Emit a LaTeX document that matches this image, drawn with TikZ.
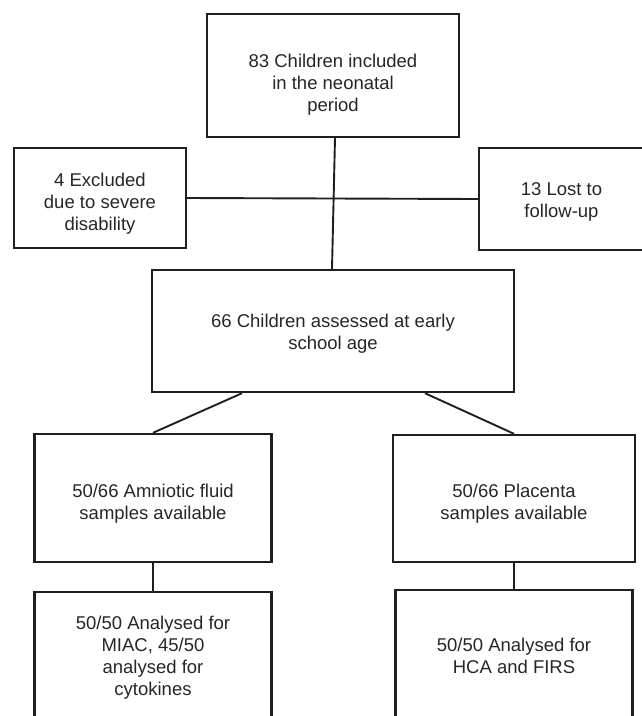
\documentclass[tikz,border=0pt]{standalone}
\usepackage{fontspec}
\setmainfont{Liberation Sans}
\begin{document}
\begin{tikzpicture}[x=1pt,y=-1pt,
  box/.style={draw=black!88, line width=2.4pt, rectangle, inner sep=0pt},
  txt/.style={align=center, font=\fontsize{18.5}{22}\selectfont, text=black!85},
  link/.style={draw=black!88, line width=1.9pt}]
\useasboundingbox (0,0) rectangle (642,716);
\clip (0,0) rectangle (642,716);
\node[box, minimum width=252, minimum height=123,
  label={[txt, yshift=-9pt]center:{83 Children included\\in the neonatal\\period}}] (top) at (333,75.5) {};
\node[box, minimum width=172, minimum height=100,
  label={[txt, yshift=-6pt]center:{4 Excluded\\due to severe\\disability}}] (excl) at (100,198) {};
\node[box, minimum width=165, minimum height=102,
  label={[txt, yshift=-3pt]center:{13 Lost to\\follow-up}}] (lost) at (561.5,199) {};
\node[box, minimum width=362, minimum height=122,
  label={[txt, yshift=-3pt]center:{66 Children assessed at early\\school age}}] (mid) at (333,331) {};
\node[box, minimum width=237, minimum height=128,
  label={[txt, yshift=-6pt]center:{50/66 Amniotic fluid\\samples available}}] (amn) at (153,498) {};
\node[box, minimum width=242, minimum height=127,
  label={[txt, yshift=-5.5pt]center:{50/66 Placenta\\samples available}}] (plac) at (514,498.5) {};
\node[box, minimum width=237, minimum height=128,
  label={[txt, yshift=-2pt]center:{50/50 Analysed for\\MIAC, 45/50\\analysed for\\cytokines}}] (an1) at (153,656) {};
\node[box, minimum width=237, minimum height=130,
  label={[txt, yshift=-1pt]center:{50/50 Analysed for\\HCA and FIRS}}] (an2) at (514,655) {};
\draw[link] (excl.east) -- (lost.west);
\draw[link] ([xshift=2pt]top.south) -- ([xshift=-1pt]mid.north);
\draw[link] ([xshift=-91pt]mid.south) -- (amn.north);
\draw[link] ([xshift=92pt]mid.south) -- (plac.north);
\draw[link] (amn.south) -- (an1.north);
\draw[link] (plac.south) -- (an2.north);
\end{tikzpicture}
\end{document}
